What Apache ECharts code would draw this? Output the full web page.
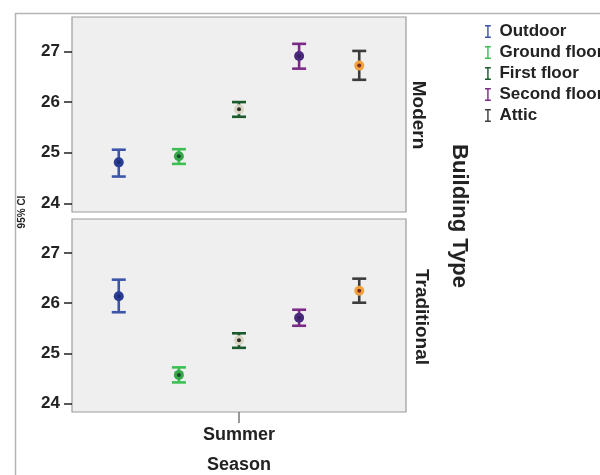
<!DOCTYPE html>
<html>
<head>
<meta charset="utf-8">
<script src="https://cdn.jsdelivr.net/npm/echarts@6/dist/echarts.min.js"></script>
<style>html,body{margin:0;padding:0;background:#fff}#c{width:600px;height:475px}</style>
</head>
<body>
<div id="c"></div>
<script>
// ---- data ----
const seasons = ['Summer'];
const buildingTypes = ['Modern', 'Traditional'];
const floors = ['Outdoor', 'Ground floor', 'First floor', 'Second floor', 'Attic'];
const yTicks = [24, 25, 26, 27];
// Modern
const modernMean = [24.81, 24.93, 25.86, 26.91, 26.72];
const modernLow  = [24.53, 24.78, 25.71, 26.66, 26.44];
const modernHigh = [25.06, 25.07, 26.00, 27.15, 27.01];
// Traditional
const tradMean = [26.14, 24.57, 25.26, 25.71, 26.25];
const tradLow  = [25.82, 24.42, 25.11, 25.55, 26.01];
const tradHigh = [26.47, 24.72, 25.40, 25.87, 26.49];

// ---- styles ----
const barColors = ['#3c55a8', '#3cbf52', '#1c5a2e', '#7a2b86', '#3c3c3c'];
const dotColors = ['#2b3e95', '#35a94a', '#d9d5c2', '#4a2a7e', '#f2a23c'];
const centerColors = ['#1e2d70', '#1b4a2a', '#2a2a2a', '#36205e', '#7a2a22'];
const FONT = 'Arial, "Liberation Sans", sans-serif';

function makeRender(idx) {
  return function (params, api) {
    const cat = api.value(0);
    const band = api.size([1, 0])[0];
    const x = api.coord([cat, api.value(2)])[0] + (idx - 2) * band * 0.18;
    const yLow = api.coord([cat, api.value(1)])[1];
    const yMean = api.coord([cat, api.value(2)])[1];
    const yHigh = api.coord([cat, api.value(3)])[1];
    const cap = 7;
    const ls = { stroke: barColors[idx], lineWidth: 2.6 };
    return {
      type: 'group',
      children: [
        { type: 'line', shape: { x1: x, y1: yLow, x2: x, y2: yHigh }, style: ls },
        { type: 'line', shape: { x1: x - cap, y1: yHigh, x2: x + cap, y2: yHigh }, style: ls },
        { type: 'line', shape: { x1: x - cap, y1: yLow, x2: x + cap, y2: yLow }, style: ls },
        { type: 'circle', shape: { cx: x, cy: yMean, r: 5 }, style: { fill: dotColors[idx] } },
        { type: 'circle', shape: { cx: x, cy: yMean, r: 2 }, style: { fill: centerColors[idx] } }
      ]
    };
  };
}

const panels = [
  { mean: modernMean, low: modernLow, high: modernHigh },
  { mean: tradMean, low: tradLow, high: tradHigh }
];

const series = [];
panels.forEach((p, g) => {
  floors.forEach((f, i) => {
    series.push({
      type: 'custom',
      name: f,
      xAxisIndex: g,
      yAxisIndex: g,
      itemStyle: { color: barColors[i] },
      renderItem: makeRender(i),
      encode: { x: 0, y: [1, 2, 3] },
      data: [[0, p.low[i], p.mean[i], p.high[i]]],
      clip: false
    });
  });
});

function yAxisCfg(g) {
  return {
    gridIndex: g, type: 'value', min: 23.83, max: 27.68,
    splitLine: { show: false },
    axisLine: { show: false },
    axisTick: { show: true, customValues: yTicks, length: 8, lineStyle: { color: '#222', width: 1.5 } },
    axisLabel: { customValues: yTicks, margin: 12, fontSize: 17, fontWeight: 'bold', color: '#222', fontFamily: FONT }
  };
}

const chart = echarts.init(document.getElementById('c'), null, { renderer: 'canvas' });
chart.setOption({
  animation: false,
  backgroundColor: '#fff',
  grid: [
    { left: 72, top: 17, width: 334, height: 195, show: true, backgroundColor: '#efefef', borderColor: '#9c9c9c', borderWidth: 1.2 },
    { left: 72, top: 219, width: 334, height: 196, show: true, backgroundColor: '#efefef', borderColor: '#9c9c9c', borderWidth: 1.2 }
  ],
  xAxis: [
    { gridIndex: 0, type: 'category', data: seasons, axisLine: { show: false }, axisTick: { show: false }, axisLabel: { show: false } },
    {
      gridIndex: 1, type: 'category', data: seasons,
      axisLine: { show: false },
      axisTick: { show: true, alignWithLabel: true, length: 11, lineStyle: { color: '#777', width: 1.5 } },
      axisLabel: { margin: 14, fontSize: 18, fontWeight: 'bold', color: '#222', fontFamily: FONT },
      name: 'Season', nameLocation: 'middle', nameGap: 44,
      nameTextStyle: { fontSize: 18, fontWeight: 'bold', color: '#222', fontFamily: FONT }
    }
  ],
  yAxis: [yAxisCfg(0), yAxisCfg(1)],
  legend: {
    orient: 'vertical', left: 485, top: 23, padding: 0,
    itemWidth: 9, itemHeight: 13, itemGap: 4,
    icon: 'path://M0,0H9V2.4H5.6V17.6H9V20H0V17.6H3.4V2.4H0Z',
    data: floors,
    textStyle: { fontSize: 17, fontWeight: 'bold', color: '#222', fontFamily: FONT, padding: [0, 0, 0, 2] }
  },
  series: series,
  graphic: [
    { type: 'rect', left: 13, top: 11, shape: { width: 620, height: 500 }, style: { fill: 'none', stroke: '#b4b4b4', lineWidth: 1.5 }, z: -10, silent: true },
    { type: 'text', x: 418, y: 115, rotation: -Math.PI / 2, style: { text: buildingTypes[0], font: 'bold 19px ' + FONT, fill: '#222', align: 'center', verticalAlign: 'middle' } },
    { type: 'text', x: 421, y: 317, rotation: -Math.PI / 2, style: { text: buildingTypes[1], font: 'bold 19px ' + FONT, fill: '#222', align: 'center', verticalAlign: 'middle' } },
    { type: 'text', x: 459, y: 216, rotation: -Math.PI / 2, style: { text: 'Building Type', font: 'bold 22px ' + FONT, fill: '#222', align: 'center', verticalAlign: 'middle' } },
    { type: 'text', x: 22, y: 212, rotation: Math.PI / 2, style: { text: '95% CI', font: 'bold 10px ' + FONT, fill: '#222', align: 'center', verticalAlign: 'middle' } }
  ]
});
</script>
</body>
</html>
